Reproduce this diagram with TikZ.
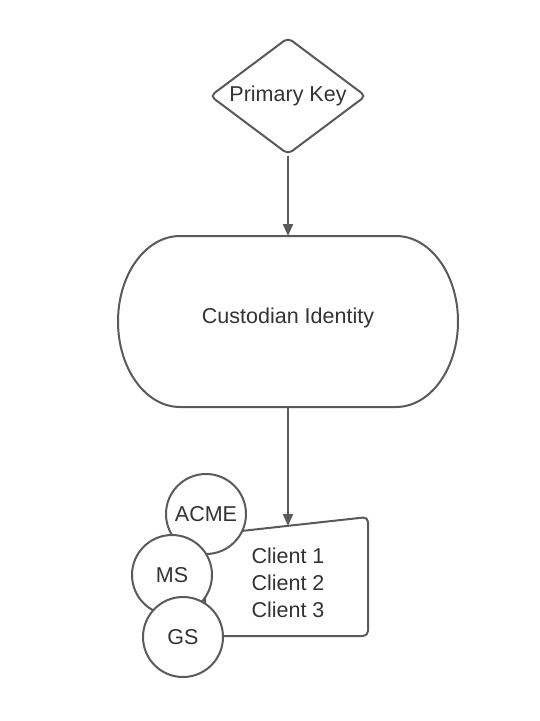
\documentclass[tikz,border=0pt]{standalone}
\usepackage{fontspec}
\setmainfont{Liberation Sans}
\usetikzlibrary{shapes.geometric,arrows.meta}
\definecolor{edgegray}{HTML}{5A5A5A}
\definecolor{txtgray}{HTML}{333333}
\tikzset{
  base/.style={draw=edgegray, line width=2pt, text=txtgray, font=\fontsize{21.5}{27}\selectfont, inner sep=0pt},
  decision/.style={base, diamond, aspect=1.333, minimum width=156pt, minimum height=117pt, rounded corners=5pt},
  label/.style={text=txtgray, font=\fontsize{21.5}{27}\selectfont, inner sep=0pt},
  org/.style={base, circle, minimum size=80pt, fill=white},
  conn/.style={draw=edgegray, line width=2pt, -{Triangle[length=12pt,width=10pt]}},
  frame/.style={draw=edgegray, line width=2pt, rounded corners=5pt, fill=white},
  outline/.style={draw=edgegray, line width=2pt}
}
\begin{document}
\begin{tikzpicture}[x=1pt,y=-1pt]
\useasboundingbox[fill=white] (0,0) rectangle (540,721);
\node[decision] (pk) at (288,96) {Primary Key};
% terminal (stadium with elliptic ends)
\draw[outline] (180,236) -- (396,236) arc[start angle=-90, end angle=90, x radius=62, y radius=85.5]
  -- (180,407) arc[start angle=90, end angle=270, x radius=62, y radius=85.5] -- cycle;
\node[label] (ci) at (288,318) {Custodian Identity};
\coordinate (citop) at (288,236);
\coordinate (cibot) at (288,407);
% manual input shape
\draw[frame] (205,535) -- (368,517) -- (368,636) -- (205,636) -- cycle;
\coordinate (mi) at (288,526);
\node[label, align=left] (cl) at (288,583) {Client 1\\Client 2\\Client 3};
\draw[conn] (pk.south) -- (citop);
\draw[conn] (cibot) -- (mi);
\node[org] (acme) at (206,514) {ACME};
\node[org] (ms) at (172,575) {MS};
\node[org] (gs) at (183,637) {GS};
\end{tikzpicture}
\end{document}
